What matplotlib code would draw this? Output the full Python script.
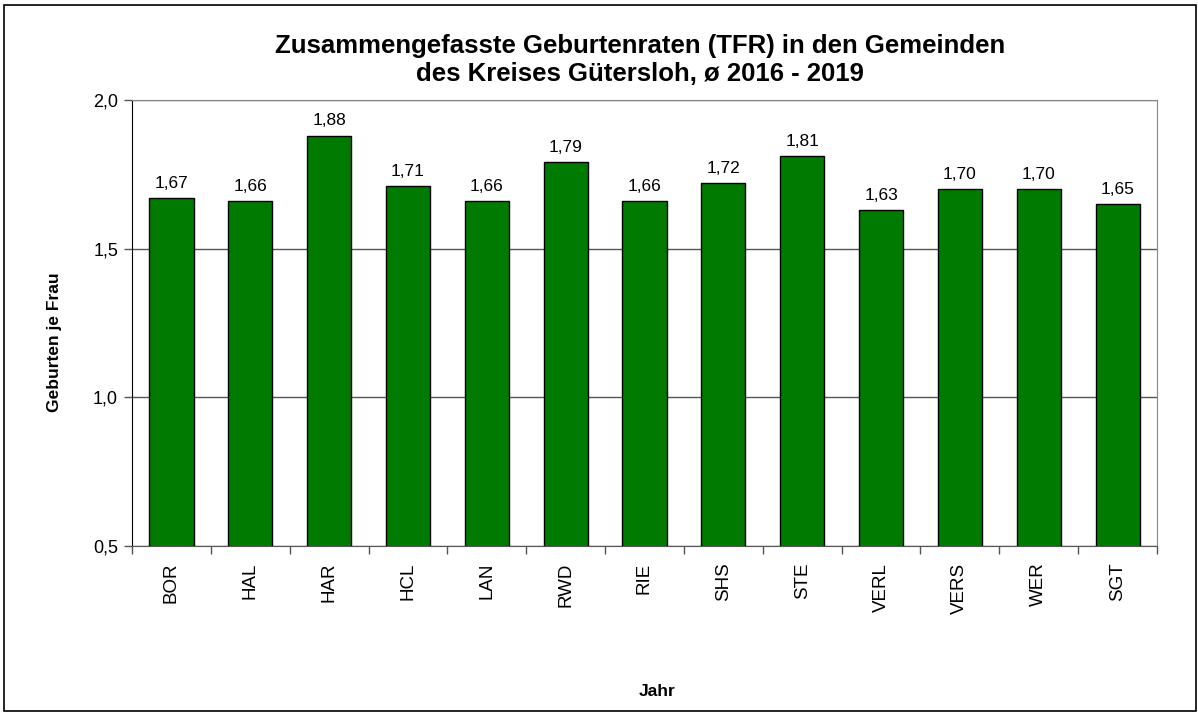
import matplotlib

matplotlib.use("Agg")
import matplotlib.pyplot as plt
from matplotlib.patches import Rectangle
from matplotlib.ticker import FuncFormatter

plt.rcParams["font.family"] = ["Liberation Sans", "DejaVu Sans"]

# Gemeinden im Kreis Gütersloh, TFR Durchschnitt 2016-2019
gemeinden = ["BOR", "HAL", "HAR", "HCL", "LAN", "RWD", "RIE", "SHS", "STE", "VERL", "VERS", "WER", "SGT"]
tfr = [1.67, 1.66, 1.88, 1.71, 1.66, 1.79, 1.66, 1.72, 1.81, 1.63, 1.70, 1.70, 1.65]
y_ticks = [0.5, 1.0, 1.5, 2.0]

W, H = 1198, 713
fig = plt.figure(figsize=(W / 100, H / 100), dpi=100)
ax = fig.add_axes([132 / W, 1 - 546 / H, (1157 - 132) / W, (546 - 100) / H])

x = list(range(len(gemeinden)))
ax.bar(x, tfr, width=0.56, color="#007a00", edgecolor="black", linewidth=1.0, zorder=3)
for xi, v in zip(x, tfr):
    ax.text(xi, v + 0.025, f"{v:.2f}".replace(".", ","), ha="center", va="bottom", fontsize=12.5, zorder=4)

ax.set_xlim(-0.5, len(gemeinden) - 0.5)
ax.set_ylim(0.5, 2.0)
ax.set_yticks(y_ticks)
ax.yaxis.set_major_formatter(FuncFormatter(lambda v, _: f"{v:.1f}".replace(".", ",")))
ax.grid(True, axis="y", color="#555555", linewidth=1.0, zorder=1)

ax.set_xticks(x)
ax.set_xticklabels(gemeinden, rotation=90, fontsize=13.5)
ax.set_xticks([i - 0.5 for i in range(len(gemeinden) + 1)], minor=True)
ax.tick_params(axis="x", which="major", length=0, pad=12)
ax.tick_params(axis="x", which="minor", length=6, width=1, color="#555555", direction="out")
ax.tick_params(axis="y", length=6, width=1, color="#555555", labelsize=13, pad=4)

ax.spines["left"].set_color("black")
ax.spines["bottom"].set_color("#555555")
ax.spines["top"].set_color("#888888")
ax.spines["right"].set_color("#888888")

fig.text(55 / W, 1 - 342 / H, "Geburten je Frau", rotation=90, ha="center", va="center", fontsize=12.5, fontweight="bold")
fig.text(657 / W, 1 - 692 / H, "Jahr", ha="center", va="center", fontsize=12.5, fontweight="bold")
fig.text(640 / W, 1 - 60 / H, "Zusammengefasste Geburtenraten (TFR) in den Gemeinden\ndes Kreises Gütersloh, ø 2016 - 2019",
         ha="center", va="center", fontsize=18.5, fontweight="bold", linespacing=1.2)

fig.patches.append(Rectangle((4 / W, 1 - 711 / H), (1196 - 4) / W, (711 - 5) / H, transform=fig.transFigure,
                             fill=False, edgecolor="black", linewidth=1.2))

fig.savefig("out.png", dpi=100)
plt.close(fig)
